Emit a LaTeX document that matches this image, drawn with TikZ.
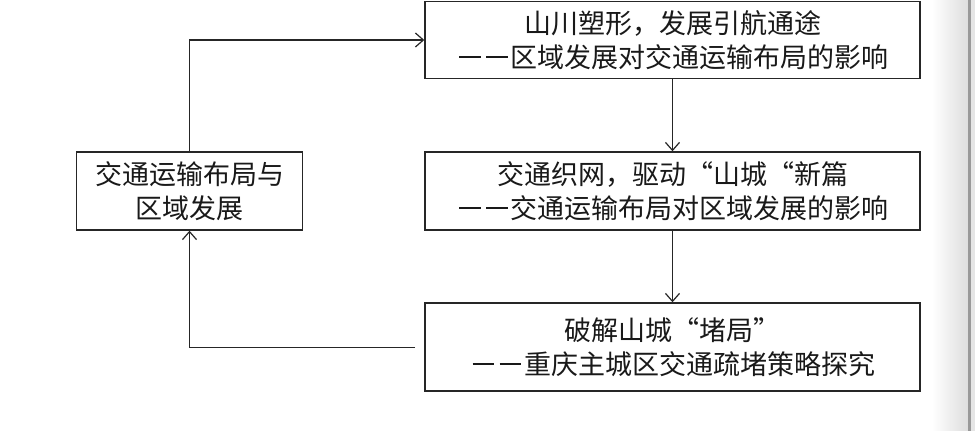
\documentclass[tikz,border=0pt]{standalone}
\usepackage{fontspec}
\setmainfont{Noto Sans CJK SC}
\usetikzlibrary{arrows.meta}
\newcommand\mydash{\makebox[1em]{\rule[0.36em]{0.8em}{0.065em}}}
\begin{document}
\begin{tikzpicture}[x=1pt,y=-1pt,
  box/.style={draw=black!85,line width=1.4pt,rectangle,inner sep=0pt,align=center,
    font=\fontsize{27}{34}\selectfont,text=black!90},
  arr/.style={draw=black!85,line width=1.4pt,-{Straight Barb[length=8pt,width=14pt,line width=1.2pt]}}]
\useasboundingbox (0,0) rectangle (975,431);
\fill[white] (0,0) rectangle (975,431);
\shade[left color=white,right color=black!13] (932,0) rectangle (968,431);
\fill[black!40] (968,0) rectangle (971,431);
\fill[black!10] (971,0) rectangle (975,431);
\node[box,minimum width=495pt,minimum height=77pt] (top) at (672.5,40) {山川塑形，发展引航通途\\\mydash\mydash 区域发展对交通运输布局的影响};
\node[box,minimum width=495pt,minimum height=78pt] (mid) at (672.5,191) {交通织网，驱动“山城“新篇\\\mydash\mydash 交通运输布局对区域发展的影响};
\node[box,minimum width=495pt,minimum height=88pt] (bot) at (672.5,347) {破解山城“堵局”\\\mydash\mydash 重庆主城区交通疏堵策略探究};
\node[box,minimum width=226pt,minimum height=78pt] (left) at (189.5,191) {交通运输布局与\\区域发展};
\coordinate (bs) at (415,347.5);
\draw[arr] (left.north) |- (top.west);
\draw[arr] (top.south) -- (mid.north);
\draw[arr] (mid.south) -- (bot.north);
\draw[arr] (bs) -| (left.south);
\end{tikzpicture}
\end{document}
